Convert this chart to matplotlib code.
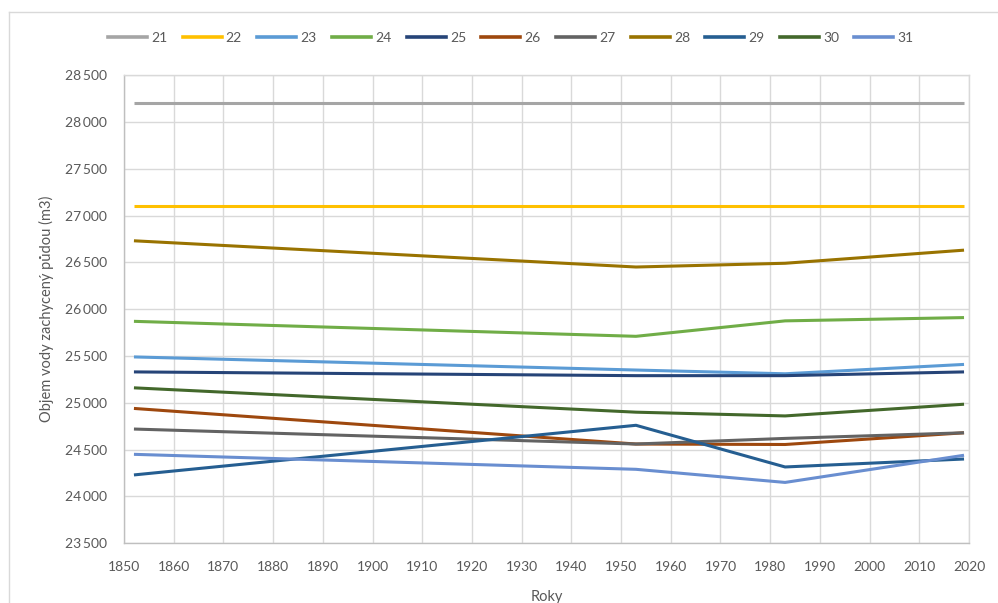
import matplotlib
matplotlib.use("Agg")
import matplotlib.pyplot as plt
from matplotlib.lines import Line2D
from matplotlib.ticker import FuncFormatter, MultipleLocator

# Survey years
years = [1852, 1953, 1983, 2019]

# Water volume retained by soil (m3) for each catchment
s21 = [28200, 28200, 28200, 28200]
s22 = [27100, 27100, 27100, 27100]
s23 = [25490, 25350, 25310, 25410]
s24 = [25870, 25710, 25875, 25910]
s25 = [25330, 25290, 25290, 25330]
s26 = [24940, 24560, 24555, 24680]
s27 = [24720, 24560, 24620, 24680]
s28 = [26730, 26450, 26490, 26630]
s29 = [24230, 24760, 24315, 24400]
s30 = [25160, 24900, 24860, 24985]
s31 = [24450, 24290, 24150, 24440]

names = ["21", "22", "23", "24", "25", "26", "27", "28", "29", "30", "31"]
series = [s21, s22, s23, s24, s25, s26, s27, s28, s29, s30, s31]
colors = ["#A5A5A5", "#FFC000", "#5B9BD5", "#70AD47", "#264478", "#9E480E",
          "#636363", "#997300", "#255E91", "#43682B", "#698ED0"]

plt.rcParams["font.family"] = ["Lato", "DejaVu Sans"]
text_col = "#595959"
grid_col = "#D9D9D9"

fig = plt.figure(figsize=(9.98, 6.03), dpi=100)
ax = fig.add_axes([0.12425, 0.0990, 0.84669, 0.7766])

for name, vals, c in zip(names, series, colors):
    ax.plot(years, vals, color=c, lw=2.2, label=name, solid_capstyle="butt")

ax.set_xlim(1850, 2020)
ax.set_ylim(23500, 28500)
ax.xaxis.set_major_locator(MultipleLocator(10))
ax.yaxis.set_major_locator(MultipleLocator(500))
ax.yaxis.set_major_formatter(FuncFormatter(lambda v, p: f"{v:,.0f}".replace(",", "\u2009")))

ax.grid(True, color=grid_col, lw=1.0)
ax.set_axisbelow(True)
for sp in ax.spines.values():
    sp.set_color(grid_col)
    sp.set_linewidth(1.0)
ax.spines["left"].set_color("#BFBFBF")
ax.spines["bottom"].set_color("#BFBFBF")

ax.tick_params(axis="both", length=0, labelsize=10, labelcolor=text_col)
ax.tick_params(axis="y", pad=12)
ax.tick_params(axis="x", pad=13)

ax.set_ylabel("Objem vody zachycený půdou (m3)", fontsize=10.5, color=text_col, labelpad=8)
ax.set_xlabel("Roky", fontsize=10.5, color=text_col, labelpad=12)

handles = [Line2D([], [], color=c, lw=2.6) for c in colors]
fig.legend(handles, names, loc="center left", bbox_to_anchor=(108 / 998, 1 - 38 / 603),
           ncol=11, frameon=False, fontsize=10, labelcolor=text_col,
           handlelength=2.8, handletextpad=0.3, columnspacing=1.11,
           borderpad=0, borderaxespad=0)

# Chart border
fig.add_artist(Line2D([8.5 / 998, 8.5 / 998], [0, 1 - 12 / 603], color=grid_col, lw=1.0,
                      transform=fig.transFigure))
fig.add_artist(Line2D([8.5 / 998, 1], [1 - 12 / 603, 1 - 12 / 603], color=grid_col, lw=1.0,
                      transform=fig.transFigure))

fig.savefig("out.png", dpi=100)
